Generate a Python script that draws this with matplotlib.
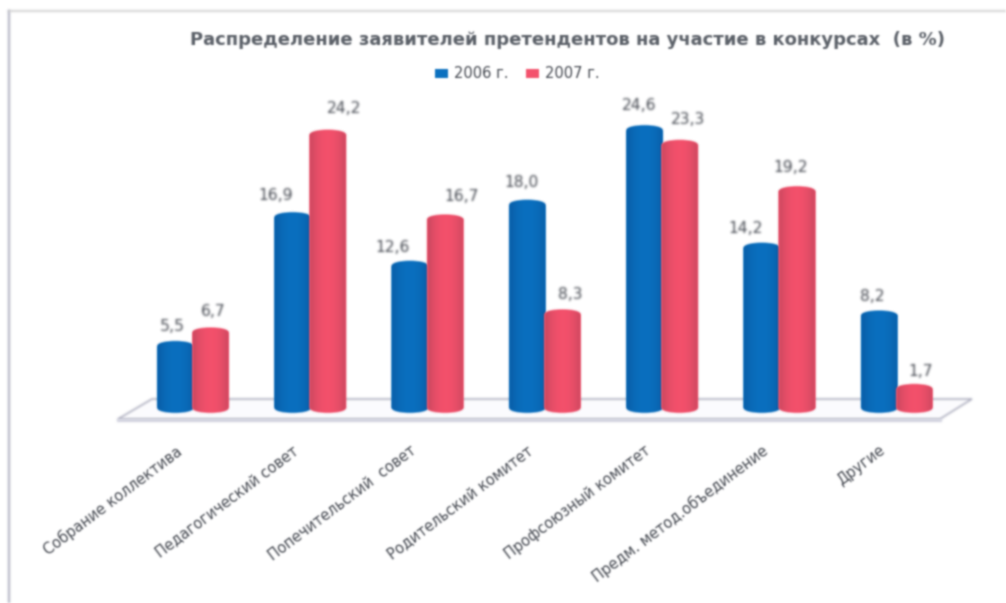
import matplotlib
matplotlib.use("Agg")
import matplotlib.pyplot as plt
import numpy as np
from matplotlib.lines import Line2D
from matplotlib.patches import Ellipse, Patch, PathPatch, Polygon
from matplotlib.path import Path
from matplotlib.transforms import ScaledTranslation

# --- Data ---
categories = ['Собрание коллектива', 'Педагогический совет', 'Попечительский  совет',
              'Родительский комитет', 'Профсоюзный комитет', 'Предм. метод.объединение', 'Другие']
values_2006 = [5.5, 16.9, 12.6, 18.0, 24.6, 14.2, 8.2]
values_2007 = [6.7, 24.2, 16.7, 8.3, 23.3, 19.2, 1.7]
title = 'Распределение заявителей претендентов на участие в конкурсах  (в %)'

# label offsets from the bar top, in pixels (they sit off-centre in the original)
dx_2006 = [-3, -17, -17, -6, -5, -16, -7]
dy_2006 = [19, 22, 18, 22, 25, 19, 19]
dx_2007 = [3, 16, 16, 8, 8, -6, 6]
dy_2007 = [21, 26, 23, 20, 25, 24, 17]

W, H = 1006, 603
DPI = 100
TEXT_COLOR = '#43474f'


def px_x(x):
    return x / W


def px_y(y):
    return 1 - y / H


# --- Blur, the reference is a soft low-res scan ---
def blur(sigma):
    radius = int(np.ceil(sigma * 3))
    kernel = np.exp(-0.5 * (np.arange(-radius, radius + 1) / sigma) ** 2)
    kernel /= kernel.sum()

    def _filter(image, dpi):
        pad = radius + 1
        img = np.pad(image, ((pad, pad), (pad, pad), (0, 0)))
        # premultiply so the transparent surround does not darken the edges
        img[..., :3] *= img[..., 3:]
        for axis in (0, 1):
            img = sum(w * np.roll(img, k - radius, axis=axis) for k, w in enumerate(kernel))
        alpha = np.maximum(img[..., 3:], 1e-4)
        img[..., :3] = np.clip(img[..., :3] / alpha, 0, 1)
        return img, -pad, -pad
    return _filter


soft = blur(1.2)
soft_text = blur(0.9)

fig = plt.figure(figsize=(W / DPI, H / DPI), dpi=DPI)
ax = fig.add_axes([px_x(134.3), px_y(408), 821.1 / W, 293.8 / H], zorder=2)
for spine in ax.spines.values():
    spine.set_visible(False)
ax.patch.set_visible(False)
ax.tick_params(axis='both', length=0)
ax.set_yticks([])

# --- Frame lines of the pasted picture ---
fig.add_artist(Line2D([px_x(9), px_x(9)], [px_y(11), 0], color='#b4b5c4', lw=1.6, agg_filter=soft))
fig.add_artist(Line2D([px_x(9), 1], [px_y(11), px_y(11)], color='#cfcfcf', lw=1.3, agg_filter=soft))

# --- Floor of the 3D chart ---
floor_xy = [(px_x(118), px_y(419)), (px_x(152), px_y(399)), (px_x(972), px_y(399)), (px_x(940), px_y(419))]
fig.add_artist(Polygon(floor_xy, closed=True, facecolor='#fcfcfe', edgecolor='#a9aabb', lw=1.1,
                       transform=fig.transFigure, zorder=0.5, agg_filter=soft))
fig.add_artist(Line2D([px_x(118), px_x(940)], [px_y(420), px_y(420)], color='#d2d3e0', lw=2.2,
                      zorder=0.6, agg_filter=soft))

# --- Cylinders ---
x = np.arange(len(categories))
bar_w = 0.3
cap_h = 0.75


def shade(color_edge, color_mid):
    t = np.linspace(0, 1, 32)
    weight = np.sin(np.pi * t) ** 0.7
    edge = np.array(matplotlib.colors.to_rgb(color_edge))
    mid = np.array(matplotlib.colors.to_rgb(color_mid))
    return (edge[None] * (1 - weight[:, None]) + mid[None] * weight[:, None])[None, :, :]


def draw_cylinders(xs, vals, edge, mid, zorder, label):
    grad = shade(edge, mid)
    bars = ax.bar(xs, vals, width=bar_w, color=mid, zorder=zorder, label=label, agg_filter=soft)
    for bar, xc, v in zip(bars, xs, vals):
        top = Ellipse((xc, v), bar_w, cap_h)
        bottom = Ellipse((xc, 0), bar_w, cap_h)
        parts = [p.get_path().transformed(p.get_patch_transform()) for p in (bar, top, bottom)]
        shape = PathPatch(Path.make_compound_path(*parts), transform=ax.transData,
                          facecolor=mid, edgecolor='none', zorder=zorder, clip_on=False, agg_filter=soft)
        ax.add_patch(shape)
        im = ax.imshow(grad, extent=[xc - bar_w / 2, xc + bar_w / 2, -cap_h, v + cap_h], aspect='auto',
                       zorder=zorder + 0.01, interpolation='bilinear', agg_filter=soft)
        im.set_clip_path(shape)
        im.set_clip_box(fig.bbox)


draw_cylinders(x - bar_w / 2, values_2006, '#0a5da6', '#0a70c0', 3, '2006 г.')
draw_cylinders(x + bar_w / 2, values_2007, '#c8485f', '#f4516c', 3.5, '2007 г.')

ax.set_xlim(-0.5, 6.5)
ax.set_ylim(0, 26)

# --- Value labels ---
for xs, vals, dxs, dys in [(x - bar_w / 2, values_2006, dx_2006, dy_2006),
                           (x + bar_w / 2, values_2007, dx_2007, dy_2007)]:
    for xc, v, dx, dy in zip(xs, vals, dxs, dys):
        ax.annotate(f'{v:.1f}'.replace('.', ','), xy=(xc, v), xytext=(dx * 72 / DPI, dy * 72 / DPI),
                    textcoords='offset points', ha='center', va='center', fontsize=11.2,
                    fontfamily='DejaVu Sans', color=TEXT_COLOR, zorder=6, agg_filter=soft_text)

# --- Category labels ---
ax.set_xticks(x)
ax.set_xticklabels(categories, rotation=37, ha='right', va='top', rotation_mode='anchor',
                   fontsize=10.5, fontfamily='DejaVu Sans', color=TEXT_COLOR)
shift = ScaledTranslation(-18 / DPI, -30 / DPI, fig.dpi_scale_trans)
for lab in ax.get_xticklabels():
    lab.set_transform(lab.get_transform() + shift)
    lab.set_agg_filter(soft_text)

# --- Title and legend ---
fig.text(px_x(567), px_y(40), title, ha='center', va='center', fontsize=13, fontweight='bold',
         fontfamily='DejaVu Sans', color='#5b6068', agg_filter=soft_text)

handles = [Patch(facecolor='#0a70c0', label='2006 г.'), Patch(facecolor='#f4516c', label='2007 г.')]
leg = fig.legend(handles=handles, loc='center', bbox_to_anchor=(px_x(517), px_y(74)), ncol=2, frameon=False,
                 prop={'family': 'DejaVu Sans', 'size': 10.5}, labelcolor=TEXT_COLOR, handlelength=0.9,
                 handleheight=0.55, handletextpad=0.4, columnspacing=1.2)
for t in leg.get_texts():
    t.set_agg_filter(soft_text)
for h in leg.get_patches():
    h.set_agg_filter(soft_text)

fig.savefig('out.png', dpi=DPI, facecolor='white')
